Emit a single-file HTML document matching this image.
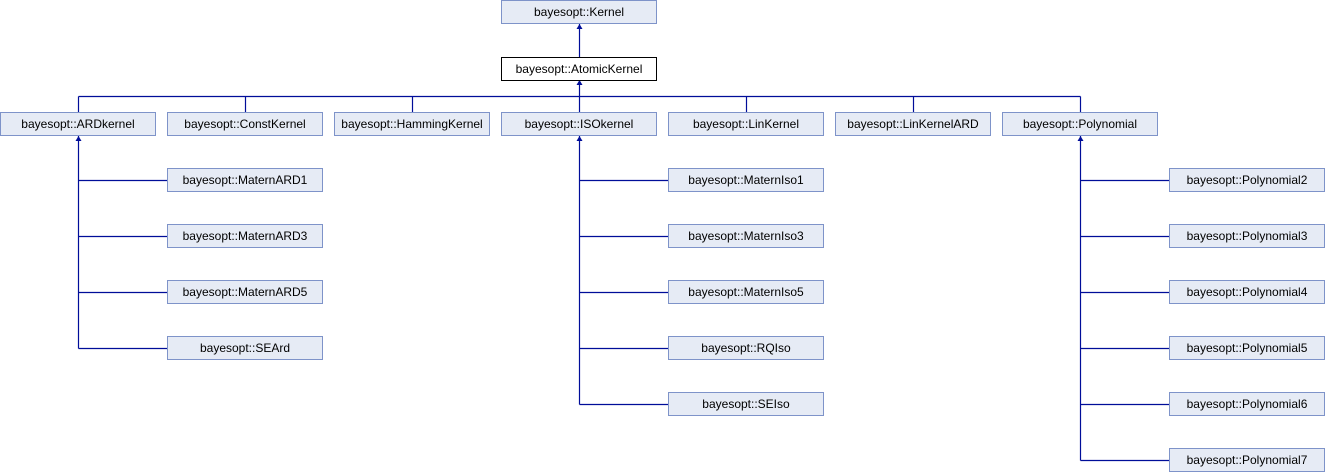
<!DOCTYPE html>
<html><head><meta charset="utf-8"><style>
html,body{margin:0;padding:0;background:#fff;width:1326px;height:472px;overflow:hidden}
svg text{font-family:"Liberation Sans",sans-serif;font-size:12px;fill:#000}
</style></head><body>
<svg width="1326" height="472" viewBox="0 0 1326 472" xmlns="http://www.w3.org/2000/svg">
<defs><marker id="a" markerWidth="6" markerHeight="6" refX="3" refY="0" orient="auto" markerUnits="userSpaceOnUse"></marker></defs>
<g stroke="#000d99" stroke-width="1.2" fill="none">
<line x1="579.5" y1="24" x2="579.5" y2="57"/>
<line x1="579.5" y1="80" x2="579.5" y2="112"/>
<line x1="78.5" y1="96.5" x2="1080.5" y2="96.5"/>
<line x1="78.5" y1="96.5" x2="78.5" y2="112"/>
<line x1="245.5" y1="96.5" x2="245.5" y2="112"/>
<line x1="412.5" y1="96.5" x2="412.5" y2="112"/>
<line x1="746.5" y1="96.5" x2="746.5" y2="112"/>
<line x1="913.5" y1="96.5" x2="913.5" y2="112"/>
<line x1="1080.5" y1="96.5" x2="1080.5" y2="112"/>
<line x1="78.5" y1="136" x2="78.5" y2="348.5"/>
<line x1="579.5" y1="136" x2="579.5" y2="404.5"/>
<line x1="1080.5" y1="136" x2="1080.5" y2="460.5"/>
<path d="M78.5 180.5H167M78.5 236.5H167M78.5 292.5H167M78.5 348.5H167"/>
<path d="M579.5 180.5H668M579.5 236.5H668M579.5 292.5H668M579.5 348.5H668M579.5 404.5H668"/>
<path d="M1080.5 180.5H1169M1080.5 236.5H1169M1080.5 292.5H1169M1080.5 348.5H1169M1080.5 404.5H1169M1080.5 460.5H1169"/>
</g>
<g fill="#000d99">
<path d="M579.5 24l-3 5h6z"/><path d="M579.5 80l-3 5h6z"/>
<path d="M78.5 136l-3 5h6z"/><path d="M579.5 136l-3 5h6z"/><path d="M1080.5 136l-3 5h6z"/>
</g>
<g stroke="#7e93c9" fill="#e6ebf5" stroke-width="1">
<rect x="501.5" y="0.5" width="155" height="23"/>
<rect x="501.5" y="57.5" width="155" height="23" fill="#fff" stroke="#000"/>
<rect x="0.5" y="112.5" width="155" height="23"/>
<rect x="167.5" y="112.5" width="155" height="23"/>
<rect x="334.5" y="112.5" width="155" height="23"/>
<rect x="501.5" y="112.5" width="155" height="23"/>
<rect x="668.5" y="112.5" width="155" height="23"/>
<rect x="835.5" y="112.5" width="155" height="23"/>
<rect x="1002.5" y="112.5" width="155" height="23"/>
<rect x="167.5" y="168.5" width="155" height="23"/>
<rect x="167.5" y="224.5" width="155" height="23"/>
<rect x="167.5" y="280.5" width="155" height="23"/>
<rect x="167.5" y="336.5" width="155" height="23"/>
<rect x="668.5" y="168.5" width="155" height="23"/>
<rect x="668.5" y="224.5" width="155" height="23"/>
<rect x="668.5" y="280.5" width="155" height="23"/>
<rect x="668.5" y="336.5" width="155" height="23"/>
<rect x="668.5" y="392.5" width="155" height="23"/>
<rect x="1169.5" y="168.5" width="155" height="23"/>
<rect x="1169.5" y="224.5" width="155" height="23"/>
<rect x="1169.5" y="280.5" width="155" height="23"/>
<rect x="1169.5" y="336.5" width="155" height="23"/>
<rect x="1169.5" y="392.5" width="155" height="23"/>
<rect x="1169.5" y="448.5" width="155" height="23"/>
</g>
<g text-anchor="middle">
<text x="579" y="16">bayesopt::Kernel</text>
<text x="579" y="73">bayesopt::AtomicKernel</text>
<text x="78" y="128">bayesopt::ARDkernel</text>
<text x="245" y="128">bayesopt::ConstKernel</text>
<text x="412" y="128">bayesopt::HammingKernel</text>
<text x="579" y="128">bayesopt::ISOkernel</text>
<text x="746" y="128">bayesopt::LinKernel</text>
<text x="913" y="128">bayesopt::LinKernelARD</text>
<text x="1080" y="128">bayesopt::Polynomial</text>
<text x="245" y="184">bayesopt::MaternARD1</text>
<text x="245" y="240">bayesopt::MaternARD3</text>
<text x="245" y="296">bayesopt::MaternARD5</text>
<text x="245" y="352">bayesopt::SEArd</text>
<text x="746" y="184">bayesopt::MaternIso1</text>
<text x="746" y="240">bayesopt::MaternIso3</text>
<text x="746" y="296">bayesopt::MaternIso5</text>
<text x="746" y="352">bayesopt::RQIso</text>
<text x="746" y="408">bayesopt::SEIso</text>
<text x="1247" y="184">bayesopt::Polynomial2</text>
<text x="1247" y="240">bayesopt::Polynomial3</text>
<text x="1247" y="296">bayesopt::Polynomial4</text>
<text x="1247" y="352">bayesopt::Polynomial5</text>
<text x="1247" y="408">bayesopt::Polynomial6</text>
<text x="1247" y="464">bayesopt::Polynomial7</text>
</g>
</svg>
</body></html>
